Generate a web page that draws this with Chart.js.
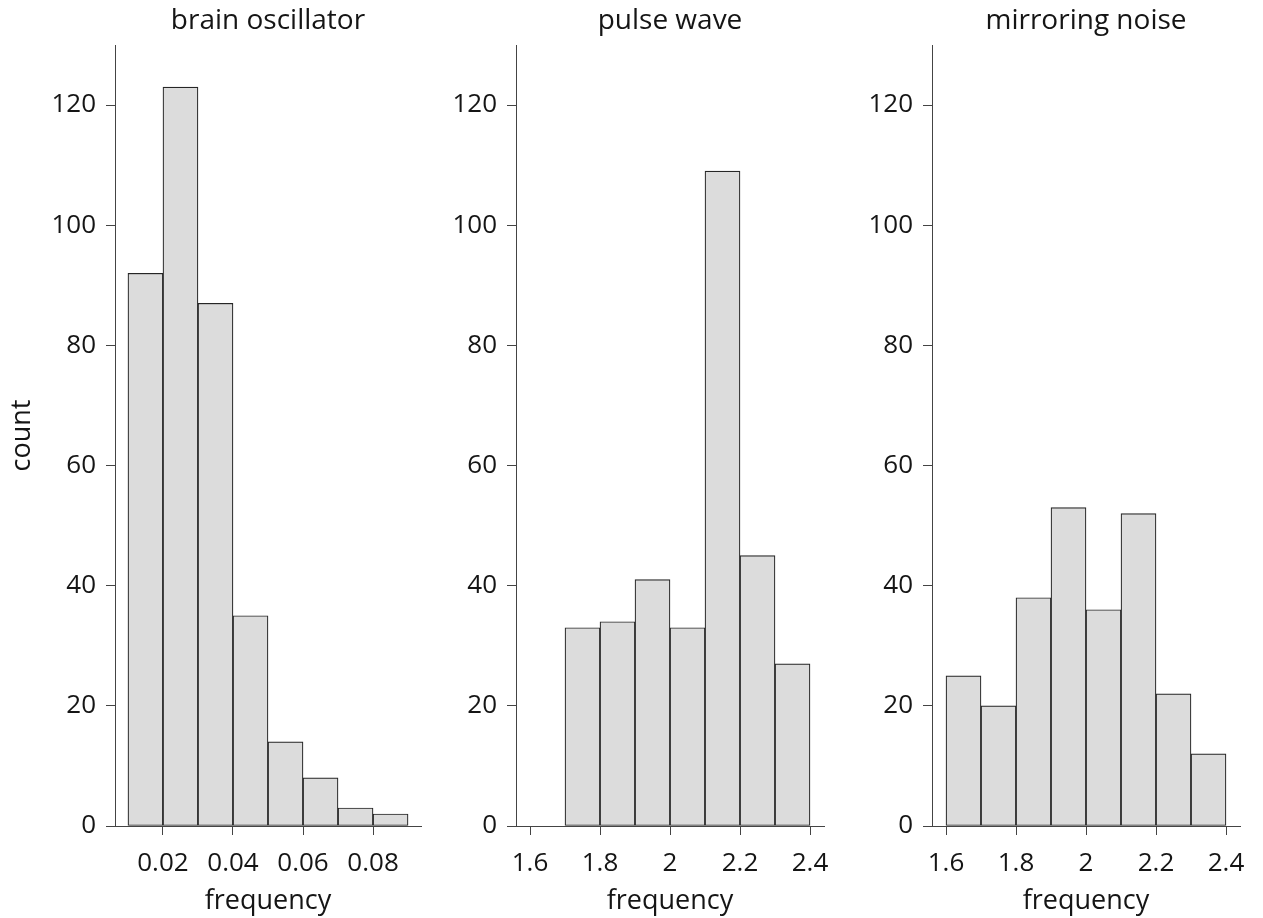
<!DOCTYPE html>
<html>
<head>
<meta charset="utf-8">
<script src="https://cdn.jsdelivr.net/npm/chart.js@4.4.1/dist/chart.umd.min.js"></script>
<style>
  body { margin: 0; background: #fff; }
  .panel { position: absolute; top: 0; height: 918px; }
</style>
</head>
<body>
<div class="panel" style="left:0;width:440px"><canvas id="brainChart" width="440" height="918"></canvas></div>
<div class="panel" style="left:440px;width:400px"><canvas id="pulseChart" width="400" height="918"></canvas></div>
<div class="panel" style="left:856px;width:407px"><canvas id="mirrorChart" width="407" height="918"></canvas></div>
<script>
// bin centres and counts for each histogram
const brainBins = [0.015, 0.025, 0.035, 0.045, 0.055, 0.065, 0.075, 0.085];
const brainCounts = [92, 123, 87, 35, 14, 8, 3, 2];
const pulseBins = [1.65, 1.75, 1.85, 1.95, 2.05, 2.15, 2.25, 2.35];
const pulseCounts = [0, 33, 34, 41, 33, 109, 45, 27];
const mirrorBins = [1.65, 1.75, 1.85, 1.95, 2.05, 2.15, 2.25, 2.35];
const mirrorCounts = [25, 20, 38, 53, 36, 52, 22, 12];

const countTicks = [0, 20, 40, 60, 80, 100, 120];
const brainTicks = [0.02, 0.04, 0.06, 0.08];
const waveTicks = [1.6, 1.8, 2, 2.2, 2.4];

const textColor = "#151515";
const axisColor = "#444444";

Chart.defaults.font.family = '"Open Sans", sans-serif';
Chart.defaults.color = textColor;

// title centred over the plot area rather than the canvas
const panelTitle = {
  id: "panelTitle",
  afterDraw(chart, args, opts) {
    const { ctx, chartArea } = chart;
    ctx.save();
    ctx.font = '28px "Open Sans", sans-serif';
    ctx.fillStyle = textColor;
    ctx.textAlign = "center";
    ctx.textBaseline = "alphabetic";
    ctx.fillText(opts.text, (chartArea.left + chartArea.right) / 2, 29);
    ctx.restore();
  },
};

function histogram(id, title, bins, counts, xTicks, xMin, xMax, yWidth, padRight, showCount) {
  const el = document.getElementById(id);
  return new Chart(el, {
    type: "bar",
    data: {
      datasets: [
        {
          data: bins.map((b, i) => ({ x: b, y: counts[i] })),
          backgroundColor: "#dcdcdc",
          borderColor: "#262626",
          borderWidth: 1.2,
          borderSkipped: false,
          barPercentage: 1,
          categoryPercentage: 1,
        },
      ],
    },
    options: {
      responsive: false,
      animation: false,
      layout: { padding: { top: 45, right: padRight, left: 0, bottom: 0 } },
      plugins: {
        legend: { display: false },
        tooltip: { enabled: false },
        panelTitle: { text: title },
      },
      scales: {
        x: {
          type: "linear",
          offset: false,
          min: xMin,
          max: xMax,
          afterBuildTicks: (s) => { s.ticks = xTicks.map((v) => ({ value: v })); },
          afterFit: (s) => { s.height = 92; s.paddingLeft = 0; s.paddingRight = 0; },
          ticks: {
            autoSkip: false,
            maxRotation: 0,
            padding: 13,
            font: { size: 26 },
            callback: (v) => String(v),
          },
          grid: { offset: false, drawOnChartArea: false, tickLength: 9, color: axisColor },
          border: { display: true, color: axisColor },
          title: {
            display: true,
            text: "frequency",
            font: { size: 27 },
            padding: { top: 0, bottom: 0 },
          },
        },
        y: {
          min: 0,
          max: 130,
          afterBuildTicks: (s) => { s.ticks = countTicks.map((v) => ({ value: v })); },
          afterFit: (s) => { s.width = yWidth; s.paddingTop = 0; s.paddingBottom = 0; },
          ticks: { padding: 10, font: { size: 26 } },
          grid: { drawOnChartArea: false, tickLength: 9, color: axisColor },
          border: { display: true, color: axisColor },
          title: {
            display: showCount,
            text: "count",
            font: { size: 27 },
            padding: { top: 6, bottom: 0 },
          },
        },
      },
    },
    plugins: [panelTitle],
  });
}

histogram("brainChart", "brain oscillator", brainBins, brainCounts, brainTicks, 0.0063, 0.0937, 115, 19, true);
histogram("pulseChart", "pulse wave", pulseBins, pulseCounts, waveTicks, 1.56, 2.44, 76, 16, false);
histogram("mirrorChart", "mirroring noise", mirrorBins, mirrorCounts, waveTicks, 1.56, 2.44, 76, 23, false);
</script>
</body>
</html>
